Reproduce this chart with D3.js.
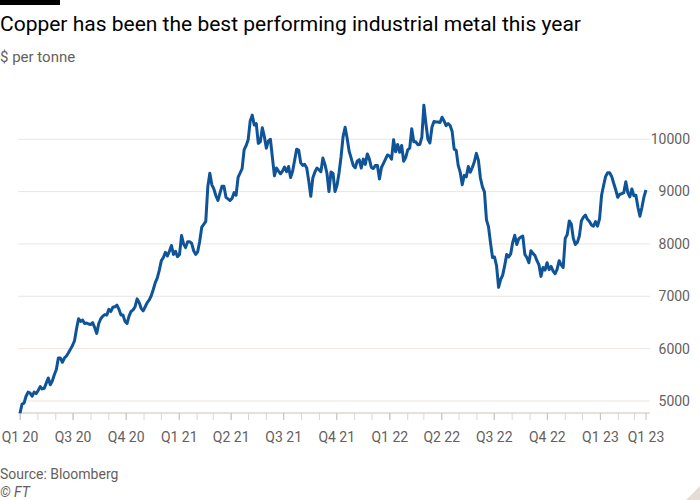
<!DOCTYPE html>
<html>
<head>
<meta charset="utf-8">
<script src="https://cdn.jsdelivr.net/npm/d3@7"></script>
<style>
  body { margin: 0; background: #fff; }
  svg { display: block; font-family: Roboto, "Noto Sans", sans-serif; }
</style>
</head>
<body>
<div id="chart"></div>
<script>
// Copper price, $ per tonne, read twice a week (every 84 hours) from the first date below
const firstDay = "2020-03-31";
const stepHours = 84;
const prices = [
  4765, 4940, 4960, 5090, 5170, 5150, 5090, 5170, 5140, 5200,
  5275, 5230, 5240, 5340, 5440, 5310, 5380, 5500, 5600, 5820,
  5820, 5740, 5820, 5860, 5920, 5990, 6060, 6150, 6380, 6570,
  6520, 6545, 6480, 6490, 6470, 6460, 6495, 6400, 6290, 6480,
  6570, 6620, 6650, 6640, 6750, 6710, 6790, 6800, 6830, 6750,
  6640, 6640, 6520, 6480, 6620, 6710, 6740, 6800, 6950, 6880,
  6770, 6720, 6800, 6880, 6930, 7010, 7130, 7260, 7350, 7500,
  7680, 7740, 7840, 7770, 7860, 7970, 7800, 7860, 7757, 7800,
  8160, 8000, 7930, 8043, 8040, 8012, 7870, 7800, 7850, 8050,
  8320, 8375, 8430, 9090, 9350, 9130, 9050, 8920, 8830, 8966,
  9100, 9100, 8890, 8860, 8830, 8870, 8980, 8930, 9270, 9355,
  9440, 9800, 9880, 9990, 10350, 10460, 10272, 10300, 9920, 9950,
  10220, 10050, 9830, 9970, 10000, 9650, 9300, 9450, 9390, 9340,
  9390, 9470, 9380, 9480, 9270, 9390, 9600, 9810, 9794, 9550,
  9500, 9520, 9450, 9200, 8910, 9260, 9370, 9450, 9420, 9380,
  9640, 9520, 9350, 9000, 9375, 9350, 9000, 9120, 9360, 9670,
  10050, 10230, 10020, 9770, 9640, 9500, 9455, 9580, 9610, 9450,
  9620, 9520, 9720, 9620, 9460, 9440, 9500, 9500, 9240, 9460,
  9540, 9620, 9700, 9680, 9620, 9990, 9760, 9900, 9750, 9880,
  9580, 9650, 9797, 9830, 10200, 9953, 9950, 9897, 9900, 10040,
  10650, 10300, 10000, 9930, 10230, 10340, 10330, 10330, 10320, 10420,
  10350, 10260, 10300, 10262, 10150, 9810, 9790, 9500, 9370, 9130,
  9310, 9280, 9480, 9370, 9460, 9570, 9730, 9600, 9260, 9090,
  8995, 8460, 8330, 8020, 7740, 7750, 7580, 7170, 7320, 7400,
  7580, 7800, 7750, 7810, 8030, 8165, 7990, 8100, 8130, 8150,
  7800, 7740, 7640, 7870, 7820, 7780, 7680, 7600, 7380, 7550,
  7500, 7640, 7510, 7570, 7480, 7430, 7520, 7680, 7600, 7550,
  8107, 8180, 8440, 8380, 8110, 7990, 8030, 8150, 8440, 8510,
  8550, 8470, 8430, 8360, 8340, 8425, 8340, 8480, 8930, 9115,
  9290, 9360, 9360, 9290, 9160, 9035, 8890, 8950, 8960, 8980,
  9189, 8980, 8900, 9050, 8920, 8930, 8700, 8530, 8700, 8900,
  9030
];

const yTicks = [5000, 6000, 7000, 8000, 9000, 10000];
const xTickDates = [
  "2020-03-31", "2020-07-01", "2020-10-01", "2021-01-01", "2021-04-01",
  "2021-07-01", "2021-10-01", "2022-01-01", "2022-04-01", "2022-07-01",
  "2022-10-01", "2023-01-01", "2023-03-21"
];
const xTickLabels = [
  "Q1 20", "Q3 20", "Q4 20", "Q1 21", "Q2 21", "Q3 21", "Q4 21",
  "Q1 22", "Q2 22", "Q3 22", "Q4 22", "Q1 23", "Q1 23"
];

const width = 700, height = 500;
const parse = d3.timeParse("%Y-%m-%d");
const start = parse(firstDay);
const data = prices.map((v, i) => ({ date: d3.timeHour.offset(start, stepHours * i), value: v }));

const svg = d3.select("#chart").append("svg")
  .attr("width", width)
  .attr("height", height);

// scales
const x = d3.scaleTime()
  .domain(d3.extent(data, d => d.date))
  .range([20, 646]);

const y = d3.scaleLinear()
  .domain([4770, 10700])
  .range([413, 102.6]);

// header
svg.append("rect")
  .attr("x", 0).attr("y", 0)
  .attr("width", 60).attr("height", 5)
  .attr("fill", "#000");

svg.append("text")
  .attr("x", 0).attr("y", 31)
  .attr("font-size", 21)
  .attr("fill", "#000")
  .text("Copper has been the best performing industrial metal this year");

svg.append("text")
  .attr("x", 0).attr("y", 62)
  .attr("font-size", 15)
  .attr("fill", "#66605c")
  .text("$ per tonne");

// gridlines + y labels
const yAxis = svg.append("g");
yAxis.selectAll("line")
  .data(yTicks)
  .join("line")
  .attr("x1", 18).attr("x2", 650)
  .attr("y1", d => y(d)).attr("y2", d => y(d))
  .attr("stroke", "#ebe6e1")
  .attr("stroke-width", 1);

yAxis.selectAll("text")
  .data(yTicks)
  .join("text")
  .attr("x", 690)
  .attr("y", d => y(d))
  .attr("dy", "0.35em")
  .attr("text-anchor", "end")
  .attr("font-size", 14)
  .attr("fill", "#66605c")
  .text(d => d);

// x axis: baseline, monthly ticks, quarter labels
const xAxis = svg.append("g");
xAxis.append("line")
  .attr("x1", 18).attr("x2", 650)
  .attr("y1", 413).attr("y2", 413)
  .attr("stroke", "#ccc1b7");

const monthTicks = d3.timeMonth.range(d3.timeMonth.ceil(x.domain()[0]), x.domain()[1]);
xAxis.selectAll("line.minor")
  .data(monthTicks)
  .join("line")
  .attr("class", "minor")
  .attr("x1", d => x(d)).attr("x2", d => x(d))
  .attr("y1", 413).attr("y2", 420)
  .attr("stroke", "#ddd5ce");

const labelTicks = xTickDates.map((d, i) => ({ date: parse(d), label: xTickLabels[i] }));
xAxis.selectAll("line.major")
  .data(labelTicks)
  .join("line")
  .attr("class", "major")
  .attr("x1", d => x(d.date)).attr("x2", d => x(d.date))
  .attr("y1", 413).attr("y2", 420)
  .attr("stroke", "#ccc1b7");

xAxis.selectAll("text")
  .data(labelTicks)
  .join("text")
  .attr("x", d => x(d.date))
  .attr("y", 442)
  .attr("text-anchor", "middle")
  .attr("font-size", 14)
  .attr("fill", "#66605c")
  .text(d => d.label);

// price line
const line = d3.line()
  .x(d => x(d.date))
  .y(d => y(d.value));

svg.append("path")
  .datum(data)
  .attr("fill", "none")
  .attr("stroke", "#0f5499")
  .attr("stroke-width", 3)
  .attr("stroke-linejoin", "round")
  .attr("d", line);

// footer
svg.append("text")
  .attr("x", 0).attr("y", 479)
  .attr("font-size", 14)
  .attr("fill", "#66605c")
  .text("Source: Bloomberg");

svg.append("text")
  .attr("x", 0).attr("y", 497)
  .attr("font-size", 14)
  .attr("font-style", "italic")
  .attr("fill", "#66605c")
  .text("© FT");

svg.append("path")
  .attr("d", "M700,486 L700,500 L686,500 Z")
  .attr("fill", "#e6dcd5");
</script>
</body>
</html>
